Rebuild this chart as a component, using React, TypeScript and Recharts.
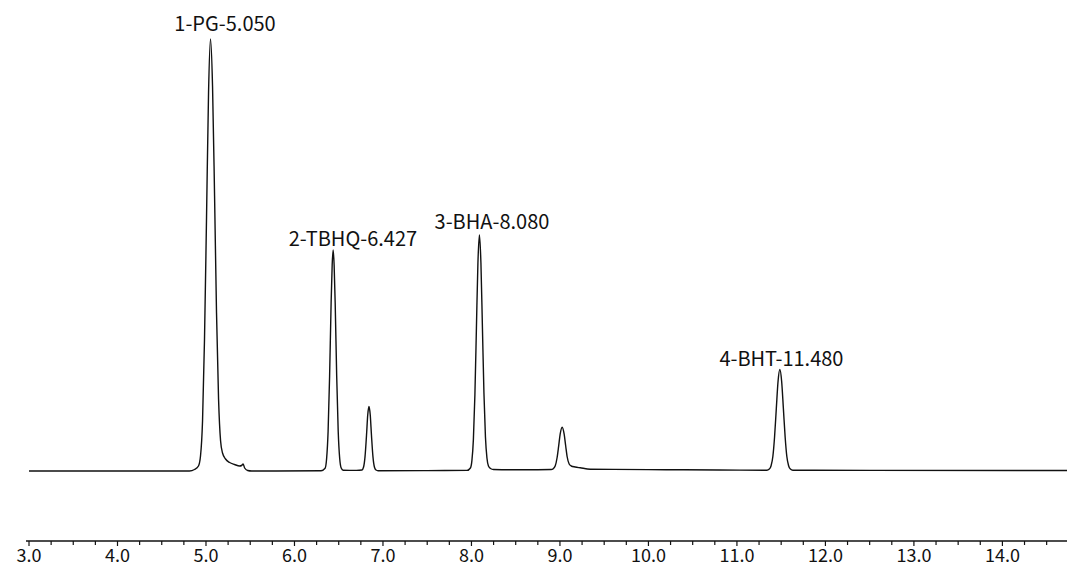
import { LineChart, Line, XAxis, YAxis, ReferenceDot } from 'recharts';

// retention time (min) and detector signal
const retentionTimes = [
  3.0, 4.0, 4.7, 4.813, 4.87, 4.915, 4.938, 4.961, 4.983, 5.006, 5.029, 5.051, 5.074, 5.097,
  5.119, 5.142, 5.165, 5.187, 5.221, 5.267, 5.323, 5.38, 5.403, 5.42, 5.437, 5.471, 5.516,
  6.3, 6.346, 6.363, 6.38, 6.397, 6.414, 6.426, 6.437, 6.448, 6.46, 6.477, 6.494, 6.511, 6.528,
  6.55, 6.7, 6.763, 6.78, 6.797, 6.814, 6.828, 6.842, 6.856, 6.87, 6.887, 6.904, 6.921, 6.944,
  7.5, 7.95, 7.988, 8.005, 8.022, 8.039, 8.056, 8.073, 8.09, 8.107, 8.124, 8.141, 8.158, 8.175,
  8.192, 8.215, 8.249, 8.6, 8.9, 8.923, 8.946, 8.968, 8.985, 9.002, 9.025, 9.048, 9.065, 9.082,
  9.104, 9.127, 9.172, 9.229, 9.342, 9.6, 10.2, 10.8, 11.338, 11.366, 11.386, 11.406, 11.425,
  11.445, 11.465, 11.485, 11.505, 11.525, 11.545, 11.564, 11.584, 11.604, 11.632, 12.5, 14.75,
];

const signal = [
  0, 0, 0, 0, 1.5, 5, 15, 50, 131, 253, 379, 432, 385, 275,
  158, 72, 30, 18, 12, 8.5, 6.5, 5, 5.5, 7, 3, 0.5, 0,
  0.3, 2.8, 12.2, 39.8, 95, 168, 206, 221, 206, 168, 95, 40, 12.5, 3,
  0.8, 0.6, 1, 3.7, 14.1, 35.7, 56.3, 64.5, 56.3, 35.7, 14.1, 3.7, 1, 0.3,
  0.4, 0.6, 3, 10.4, 31.9, 76.6, 143, 208, 236, 208, 143, 78, 34, 13,
  5, 2.5, 1.5, 1.2, 1.5, 2.2, 4.9, 13.5, 24.6, 36.6, 43.8, 36.6, 25, 14,
  7, 5, 4, 3.2, 1.8, 1.6, 1.3, 1.0, 0.8, 1.9, 5.3, 14.5, 33.8,
  62.4, 90, 101.5, 90, 62.4, 33.8, 14.5, 5.3, 1.9, 0.8, 0.6, 0.5,
];

const peakNames = ['1-PG-5.050', '2-TBHQ-6.427', '3-BHA-8.080', '4-BHT-11.480'];

const majorTicks = [3, 4, 5, 6, 7, 8, 9, 10, 11, 12, 13, 14];
const minorTicks = [
  3.25, 3.5, 3.75, 4.25, 4.5, 4.75, 5.25, 5.5, 5.75, 6.25, 6.5, 6.75, 7.25, 7.5, 7.75,
  8.25, 8.5, 8.75, 9.25, 9.5, 9.75, 10.25, 10.5, 10.75, 11.25, 11.5, 11.75, 12.25, 12.5,
  12.75, 13.25, 13.5, 13.75, 14.25, 14.5,
];

// where each peak name sits (time, signal level of the text baseline)
const labelAnchors = [
  { t: 5.215, v: 440 },
  { t: 6.661, v: 225 },
  { t: 8.232, v: 242 },
  { t: 11.503, v: 105 },
];

const FONT = '"Noto Sans CJK SC", "Noto Sans", sans-serif';
const INK = '#111';

const data = retentionTimes.map((t, i) => ({ t, v: signal[i] }));
const allTicks = [...majorTicks, ...minorTicks].sort((a, b) => a - b);

function TimeTick(props: any) {
  const { x, y, payload } = props;
  const major = majorTicks.includes(payload.value);
  return (
    <g>
      <line x1={x} x2={x} y1={y} y2={y + (major ? 5 : 4)} stroke={INK} strokeWidth={1.2} />
      {major && (
        <text x={x} y={y + 21} textAnchor="middle" fontSize={18} fontFamily={FONT} fill={INK}>
          {payload.value.toFixed(1)}
        </text>
      )}
    </g>
  );
}

function peakLabel(text: string) {
  return (props: any) => {
    const vb = props.viewBox || {};
    const cx = (vb.x ?? 0) + (vb.width ?? 0) / 2;
    const cy = (vb.y ?? 0) + (vb.height ?? 0) / 2;
    return (
      <text x={cx} y={cy} textAnchor="middle" fontSize={20} fontFamily={FONT} fill={INK}>
        {text}
      </text>
    );
  };
}

export default function App() {
  return (
    <div style={{ position: 'absolute', left: 0, top: 0, width: 1080, height: 578, background: '#fff' }}>
      <LineChart
        width={1080}
        height={578}
        data={data}
        margin={{ top: 20, right: 13, bottom: 0, left: 26 }}
      >
        <XAxis
          dataKey="t"
          type="number"
          domain={[2.966, 14.73]}
          allowDataOverflow
          ticks={allTicks}
          interval={0}
          tick={<TimeTick />}
          tickLine={false}
          tickSize={0}
          tickMargin={0}
          height={37}
          axisLine={{ stroke: INK, strokeWidth: 1.3 }}
        />
        <YAxis hide type="number" domain={[-70, 451]} allowDataOverflow />
        <Line
          type="monotone"
          dataKey="v"
          stroke={INK}
          strokeWidth={1.4}
          dot={false}
          activeDot={false}
          isAnimationActive={false}
        />
        {labelAnchors.map((a, i) => (
          <ReferenceDot
            key={peakNames[i]}
            x={a.t}
            y={a.v}
            r={0}
            fill="none"
            stroke="none"
            label={peakLabel(peakNames[i])}
          />
        ))}
      </LineChart>
    </div>
  );
}
